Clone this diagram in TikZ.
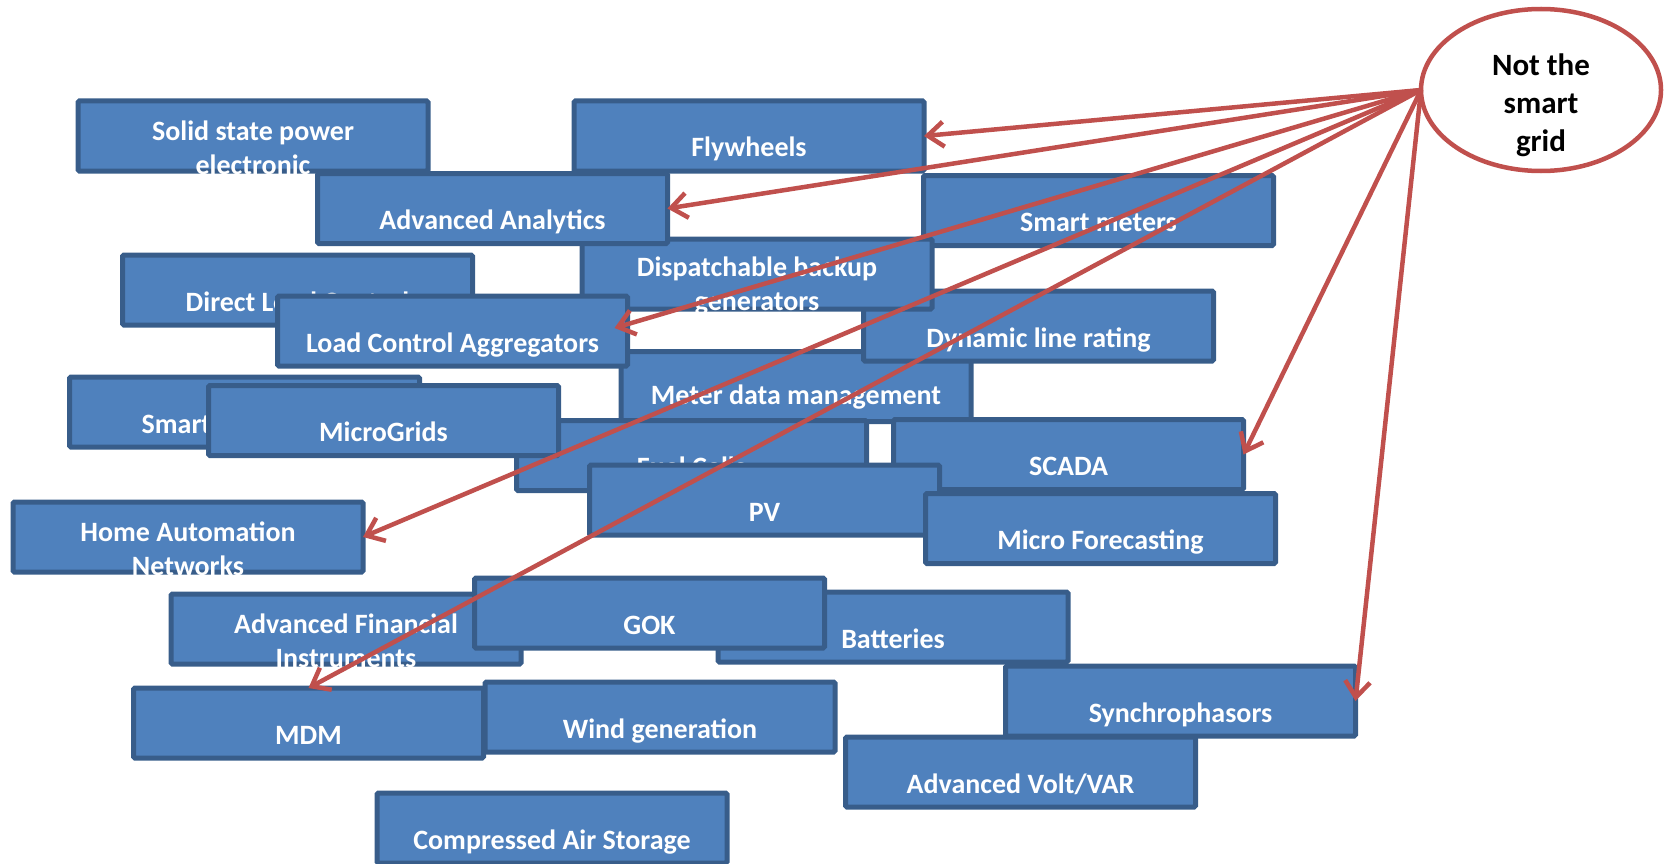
\documentclass[tikz,border=0pt]{standalone}
\usepackage{fontspec}
\setmainfont{Carlito}
\usetikzlibrary{arrows.meta,shapes.geometric}
\definecolor{boxfill}{HTML}{4F81BD}
\definecolor{boxline}{HTML}{385D8A}
\definecolor{arrowred}{HTML}{C0504D}
\begin{document}
\begin{tikzpicture}[x=1pt,y=-1pt,
  box/.style={draw=boxline, fill=boxfill, line width=5pt, rounded corners=1.5pt,
    minimum width=350pt, minimum height=70pt, inner sep=0pt, outer sep=0pt},
  boxtext/.style={text=white, font=\fontsize{28}{34}\selectfont\bfseries,
    align=center, anchor=base, inner sep=0pt},
  link/.style={draw=arrowred, line width=4.5pt, -{Straight Barb[length=16pt,width=25pt]}},
  oval/.style={ellipse, draw=arrowred, line width=4.5pt, fill=white,
    minimum width=240pt, minimum height=162pt, inner sep=0pt, outer sep=0pt},
  ovaltext/.style={text=black, font=\fontsize{31}{38}\selectfont\bfseries,
    align=center, anchor=base, inner sep=0pt}
]
\useasboundingbox (0,0) rectangle (1670,864);
\clip (0,0) rectangle (1670,864);

\node[box] (solid) at (253,136) {};
\node[boxtext] (solidt) at ([yshift=-38pt]solid.center) {Solid state power\\electronic};

\node[box] (fly) at (749,136) {};
\node[boxtext] (flyt) at ([yshift=-21pt]fly.center) {Flywheels};

\node[box] (meters) at (1098.5,210.5) {};
\node[boxtext] (meterst) at ([yshift=-21pt]meters.center) {Smart meters};

\node[box] (direct) at (297.5,290) {};
\node[boxtext] (directt) at ([yshift=-21pt]direct.center) {Direct Load Control};

\node[box] (mdata) at (796,386.5) {};
\node[boxtext] (mdatat) at ([yshift=-18pt]mdata.center) {Meter data management};

\node[box] (dyn) at (1038.5,326) {};
\node[boxtext] (dynt) at ([yshift=-21pt]dyn.center) {Dynamic line rating};

\node[box] (disp) at (757,274) {};
\node[boxtext] (dispt) at ([yshift=-36pt]disp.center) {Dispatchable backup\\generators};

\node[box] (aa) at (492.5,208.5) {};
\node[boxtext] (aat) at ([yshift=-21pt]aa.center) {Advanced Analytics};

\node[box] (lca) at (452.5,331) {};
\node[boxtext] (lcat) at ([yshift=-21pt]lca.center) {Load Control Aggregators};

\node[box] (sapp) at (244.5,412) {};
\node[boxtext, anchor=base west] (sappt) at ([xshift=-103pt,yshift=-21pt]sapp.center) {Smart};

\node[box] (fuel) at (691.5,455.5) {};
\node[boxtext] (fuelt) at ([yshift=-21pt]fuel.center) {Fuel Cells};

\node[box] (micro) at (383.5,420.5) {};
\node[boxtext] (microt) at ([yshift=-21pt]micro.center) {MicroGrids};

\node[box] (scada) at (1068.5,454.5) {};
\node[boxtext] (scadat) at ([yshift=-21pt]scada.center) {SCADA};

\node[box] (pv) at (764.5,500) {};
\node[boxtext] (pvt) at ([yshift=-21pt]pv.center) {PV};

\node[box] (mf) at (1100.5,528.5) {};
\node[boxtext] (mft) at ([yshift=-21pt]mf.center) {Micro Forecasting};

\node[box] (han) at (188,537) {};
\node[boxtext] (hant) at ([yshift=-38pt]han.center) {Home Automation\\Networks};

\node[box] (afi) at (346,629) {};
\node[boxtext] (afit) at ([yshift=-38pt]afi.center) {Advanced Financial\\Instruments};

\node[box] (batt) at (893,627) {};
\node[boxtext] (battt) at ([yshift=-21pt]batt.center) {Batteries};

\node[box] (gok) at (649.5,613) {};
\node[boxtext] (gokt) at ([yshift=-21pt]gok.center) {GOK};

\node[box] (mdm) at (308.5,723) {};
\node[boxtext] (mdmt) at ([yshift=-21pt]mdm.center) {MDM};

\node[box] (wind) at (660,717) {};
\node[boxtext] (windt) at ([yshift=-21pt]wind.center) {Wind generation};

\node[box] (volt) at (1020.5,772) {};
\node[boxtext] (voltt) at ([yshift=-21pt]volt.center) {Advanced Volt/VAR};

\node[box] (sync) at (1180.5,701) {};
\node[boxtext] (synct) at ([yshift=-21pt]sync.center) {Synchrophasors};

\node[box] (cas) at (552,828) {};
\node[boxtext] (cast) at ([yshift=-21pt]cas.center) {Compressed Air Storage};

\node[oval] (ntsg) at (1541,90) {};
\node[ovaltext] (ntsgt) at ([yshift=-62pt]ntsg.center) {Not the\\smart\\grid};

\coordinate (lcatip) at ([xshift=-13pt,yshift=3pt]lca.east);

\draw[link] (ntsg.west) -- (fly.east);
\draw[link] (ntsg.west) -- (aa.east);
\draw[link] (ntsg.west) -- (lcatip);
\draw[link] (ntsg.west) -- (han.east);
\draw[link] (ntsg.west) -- (mdm.north);
\draw[link] (ntsg.west) -- (scada.east);
\draw[link] (ntsg.west) -- (sync.east);
\end{tikzpicture}
\end{document}
